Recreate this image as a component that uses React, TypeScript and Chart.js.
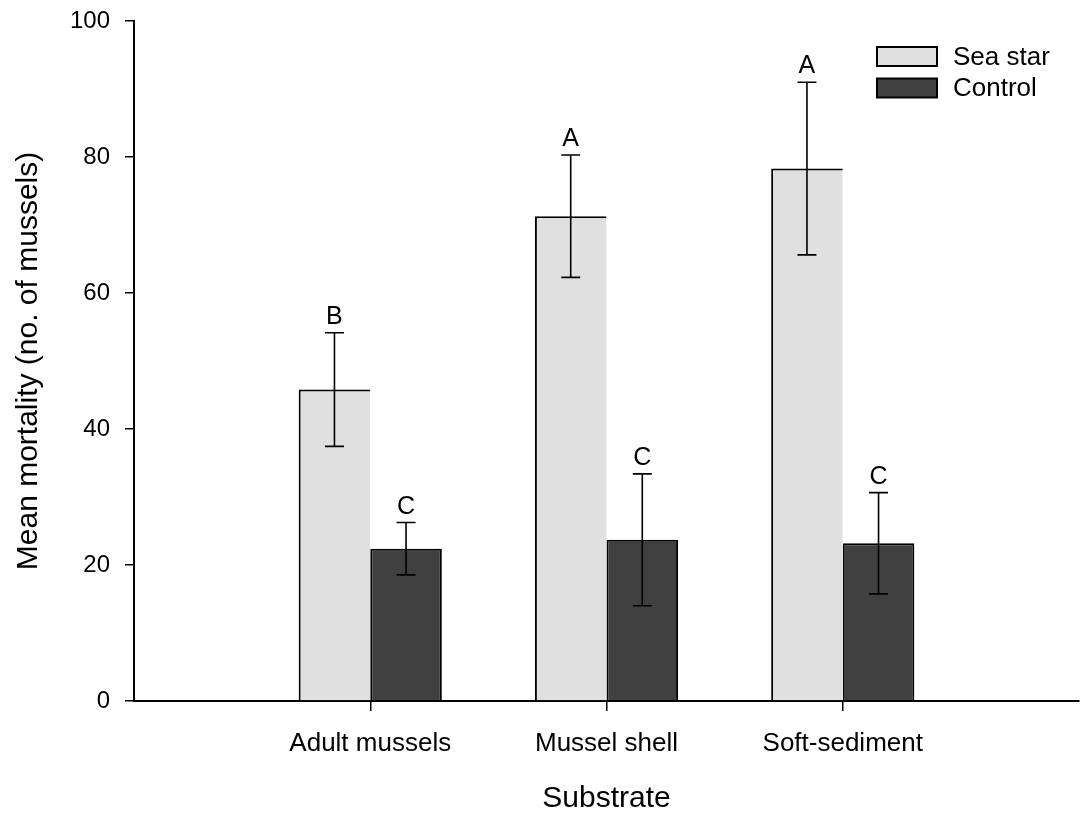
import React, { useEffect, useRef } from 'react';
import { Chart, registerables } from 'chart.js';

Chart.register(...registerables);

// Substrate categories; blank slots pad the axis on both sides
const substrates = ['', 'Adult mussels', 'Mussel shell', 'Soft-sediment', ''];
const seaStarMean = [null, 45.8, 71.3, 78.3, null];
const seaStarSE = [null, 8.35, 9.0, 12.7, null];
const controlMean = [null, 22.4, 23.7, 23.2, null];
const controlSE = [null, 3.85, 9.7, 7.45, null];
const seaStarLetters = ['', 'B', 'A', 'A', ''];
const controlLetters = ['', 'C', 'C', 'C', ''];
const seriesNames = ['Sea star', 'Control'];

const FONT = '"Liberation Sans", Arial, Helvetica, sans-serif';
const SEA_COLOR = '#e0e0e0';
const CTRL_COLOR = '#404040';

// Drop the extra padding that tick labels would otherwise reserve
const clearScalePadding = (scale: any) => {
  scale.paddingTop = 0;
  scale.paddingBottom = 0;
  scale.paddingLeft = 0;
  scale.paddingRight = 0;
};

const errorBarPlugin = {
  id: 'errorBars',
  afterDatasetsDraw(chart: any) {
    const { ctx } = chart;
    const yScale = chart.scales.y;
    const errs = [seaStarSE, controlSE];
    const letters = [seaStarLetters, controlLetters];
    chart.data.datasets.forEach((ds: any, di: number) => {
      const meta = chart.getDatasetMeta(di);
      meta.data.forEach((el: any, i: number) => {
        const v = ds.data[i];
        const e = errs[di][i];
        if (v == null || e == null) return;
        const x = el.x;
        const yTop = yScale.getPixelForValue(v + e);
        const yBot = yScale.getPixelForValue(v - e);
        const cap = 9.5;
        ctx.save();
        ctx.strokeStyle = '#000';
        ctx.lineWidth = 1.6;
        ctx.beginPath();
        ctx.moveTo(x, yTop);
        ctx.lineTo(x, yBot);
        ctx.moveTo(x - cap, yTop);
        ctx.lineTo(x + cap, yTop);
        ctx.moveTo(x - cap, yBot);
        ctx.lineTo(x + cap, yBot);
        ctx.stroke();
        const letter = letters[di][i];
        if (letter) {
          ctx.fillStyle = '#000';
          ctx.font = `25px ${FONT}`;
          ctx.textAlign = 'center';
          ctx.textBaseline = 'alphabetic';
          ctx.fillText(letter, x, yTop - 9);
        }
        ctx.restore();
      });
    });
  },
};

const legendPlugin = {
  id: 'boxLegend',
  afterDraw(chart: any) {
    const { ctx } = chart;
    const colors = [SEA_COLOR, CTRL_COLOR];
    const boxX = 877;
    const boxW = 60;
    const boxH = 19;
    const y0 = 47;
    const step = 31.5;
    ctx.save();
    seriesNames.forEach((name, i) => {
      const y = y0 + i * step;
      ctx.fillStyle = colors[i];
      ctx.fillRect(boxX, y, boxW, boxH);
      ctx.strokeStyle = '#000';
      ctx.lineWidth = 2;
      ctx.strokeRect(boxX, y, boxW, boxH);
      ctx.fillStyle = '#000';
      ctx.font = `26px ${FONT}`;
      ctx.textAlign = 'left';
      ctx.textBaseline = 'middle';
      ctx.fillText(name, boxX + boxW + 16, y + boxH / 2 + 1);
    });
    ctx.restore();
  },
};

export default function App() {
  const canvasRef = useRef<HTMLCanvasElement | null>(null);

  useEffect(() => {
    if (!canvasRef.current) return;
    const chart = new Chart(canvasRef.current, {
      type: 'bar',
      data: {
        labels: substrates,
        datasets: [
          {
            label: seriesNames[0],
            data: seaStarMean as any,
            backgroundColor: SEA_COLOR,
            borderColor: '#000',
            borderWidth: { top: 2, left: 2, right: 0, bottom: 0 } as any,
            borderSkipped: false,
            inflateAmount: 0,
          },
          {
            label: seriesNames[1],
            data: controlMean as any,
            backgroundColor: CTRL_COLOR,
            borderColor: '#000',
            borderWidth: { top: 2, left: 2, right: 2, bottom: 0 } as any,
            borderSkipped: false,
            inflateAmount: 0,
          },
        ],
      },
      options: {
        animation: false,
        responsive: true,
        maintainAspectRatio: false,
        layout: { padding: { top: 21, right: 1, left: 0, bottom: 0 } },
        categoryPercentage: 0.606,
        barPercentage: 1.0,
        plugins: {
          legend: { display: false },
          tooltip: { enabled: false },
        },
        scales: {
          x: {
            type: 'category',
            offset: false,
            grid: {
              offset: false,
              drawOnChartArea: false,
              tickLength: 10,
              lineWidth: 1.5,
              color: (c: any) => (substrates[c.index] ? '#000' : 'rgba(0,0,0,0)'),
              tickColor: (c: any) => (substrates[c.index] ? '#000' : 'rgba(0,0,0,0)'),
            },
            border: { display: true, color: '#000', width: 2 },
            ticks: {
              color: '#000',
              font: { family: FONT, size: 26 },
              padding: 17,
              autoSkip: false,
              maxRotation: 0,
            },
            title: {
              display: true,
              text: 'Substrate',
              color: '#000',
              font: { family: FONT, size: 30 },
              padding: { top: 0, bottom: 0 },
            },
            afterFit: (scale: any) => {
              scale.height = 116;
              clearScalePadding(scale);
            },
          },
          y: {
            min: 0,
            max: 100,
            ticks: {
              stepSize: 20,
              color: '#000',
              font: { family: FONT, size: 24 },
              padding: 15,
            },
            grid: {
              drawOnChartArea: false,
              tickLength: 9,
              lineWidth: 1.5,
              color: '#000',
              tickColor: '#000',
            },
            border: { display: true, color: '#000', width: 2 },
            title: {
              display: true,
              text: 'Mean mortality (no. of mussels)',
              color: '#000',
              font: { family: FONT, size: 30 },
              padding: { top: 11, bottom: 0 },
            },
            afterFit: (scale: any) => {
              scale.width = 134;
              clearScalePadding(scale);
            },
          },
        },
      },
      plugins: [errorBarPlugin, legendPlugin],
    });
    return () => chart.destroy();
  }, []);

  return (
    <div style={{ position: 'fixed', left: 0, top: 0, width: 1080, height: 817, background: '#fff' }}>
      <canvas ref={canvasRef} />
    </div>
  );
}
